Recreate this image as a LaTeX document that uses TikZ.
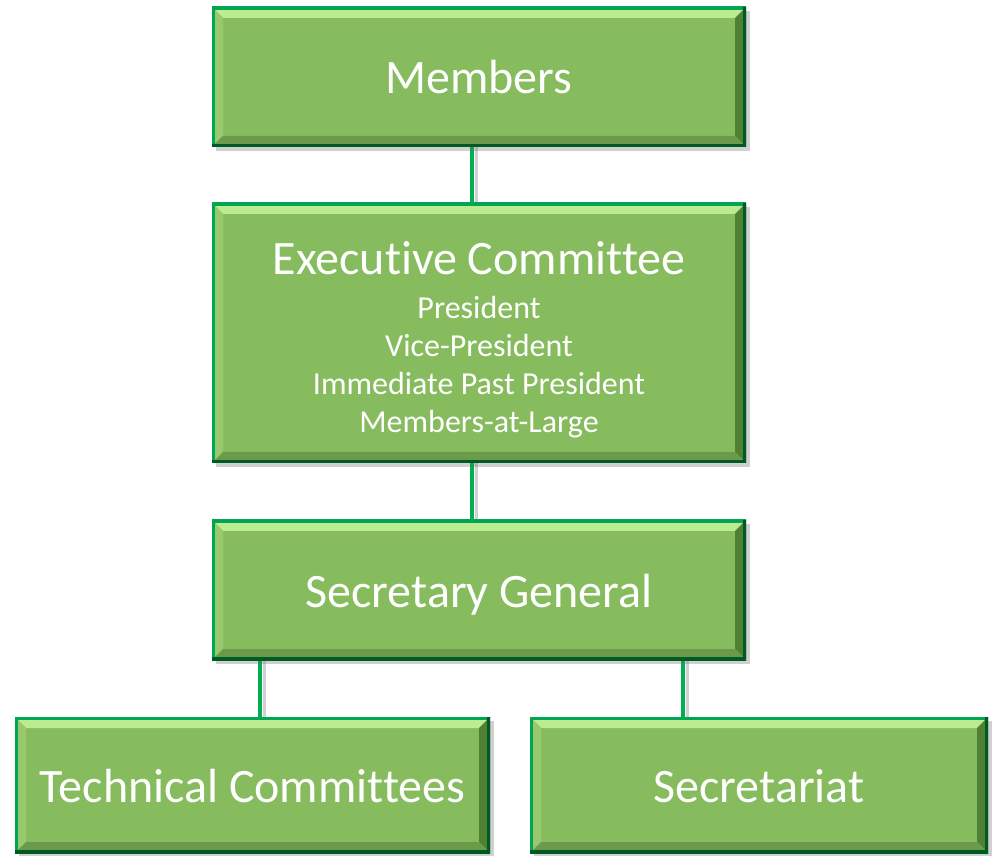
\documentclass[tikz,border=0pt]{standalone}
\usepackage{fontspec}
\setmainfont[Ligatures=NoCommon]{Carlito}
\usetikzlibrary{shadows,backgrounds,calc}
\definecolor{boxfill}{HTML}{86BC5E}
\definecolor{bevtop}{HTML}{BDEB92}
\definecolor{bevleft}{HTML}{98C96E}
\definecolor{bevright}{HTML}{4F8033}
\definecolor{bevbot}{HTML}{6A9A4A}
\definecolor{edgelight}{HTML}{00A651}
\definecolor{edgedark}{HTML}{005A24}
\definecolor{linkgreen}{HTML}{00B050}
\tikzset{
  orgbox/.style={rectangle, fill=boxfill, text=white, inner sep=0pt, align=center,
    drop shadow={shadow xshift=4pt, shadow yshift=-4pt, opacity=0.3, fill=black!60},
    path picture={
      \path (path picture bounding box.north west) coordinate (pnw)
            (path picture bounding box.north east) coordinate (pne)
            (path picture bounding box.south west) coordinate (psw)
            (path picture bounding box.south east) coordinate (pse);
      \fill[bevtop] (pnw) -- (pne) -- ($(pne)+(-11,-11)$) -- ($(pnw)+(11,-11)$) -- cycle;
      \fill[bevleft] (pnw) -- (psw) -- ($(psw)+(11,11)$) -- ($(pnw)+(11,-11)$) -- cycle;
      \fill[bevright] (pne) -- (pse) -- ($(pse)+(-11,11)$) -- ($(pne)+(-11,-11)$) -- cycle;
      \fill[bevbot] (psw) -- (pse) -- ($(pse)+(-11,11)$) -- ($(psw)+(11,11)$) -- cycle;
      \draw[edgelight, line width=6pt] (psw) -- (pnw) -- (pne);
      \draw[edgedark, line width=6pt] (pne) -- (pse) -- (psw);
    }},
  bigtext/.style={font=\fontsize{48}{56}\selectfont, text height=34pt, text depth=0pt},
  link/.style={draw=linkgreen, line width=3.5pt},
  linkshadow/.style={draw=black, opacity=0.18, line width=3pt},
}
\begin{document}
\begin{tikzpicture}[x=1pt,y=1pt]
\useasboundingbox (0,0) rectangle (996,855);
\node[orgbox, bigtext, minimum width=534, minimum height=140] (members) at (479,778) {Members};
\node[orgbox, minimum width=534, minimum height=260, font=\fontsize{32}{38}\selectfont] (exec) at (479,522)
  {\rule{0pt}{46pt}{\fontsize{48}{48}\selectfont Executive Committee}\\[6pt]President\\Vice-President\\Immediate Past President\\Members-at-Large};
\node[orgbox, bigtext, minimum width=534, minimum height=140] (secgen) at (479,265) {Secretary General};
\node[orgbox, bigtext, minimum width=475, minimum height=136] (tech) at (252.5,70) {Technical Committees};
\node[orgbox, bigtext, minimum width=458, minimum height=136] (secr) at (759,70) {Secretariat};
\coordinate (cxa) at (472,0);
\coordinate (cxb) at (260,0);
\coordinate (cxc) at (683,0);
\begin{scope}[on background layer]
\fill[white] (0,0) rectangle (996,855);
\draw[linkshadow] ([xshift=4pt]members.south -| cxa) -- ([xshift=4pt]exec.north -| cxa);
\draw[linkshadow] ([xshift=4pt]exec.south -| cxa) -- ([xshift=4pt]secgen.north -| cxa);
\draw[linkshadow] ([xshift=4pt]secgen.south -| cxb) -- ([xshift=4pt]tech.north -| cxb);
\draw[linkshadow] ([xshift=4pt]secgen.south -| cxc) -- ([xshift=4pt]secr.north -| cxc);
\draw[link] (members.south -| cxa) -- (exec.north -| cxa);
\draw[link] (exec.south -| cxa) -- (secgen.north -| cxa);
\draw[link] (secgen.south -| cxb) -- (tech.north -| cxb);
\draw[link] (secgen.south -| cxc) -- (secr.north -| cxc);
\end{scope}
\end{tikzpicture}
\end{document}
